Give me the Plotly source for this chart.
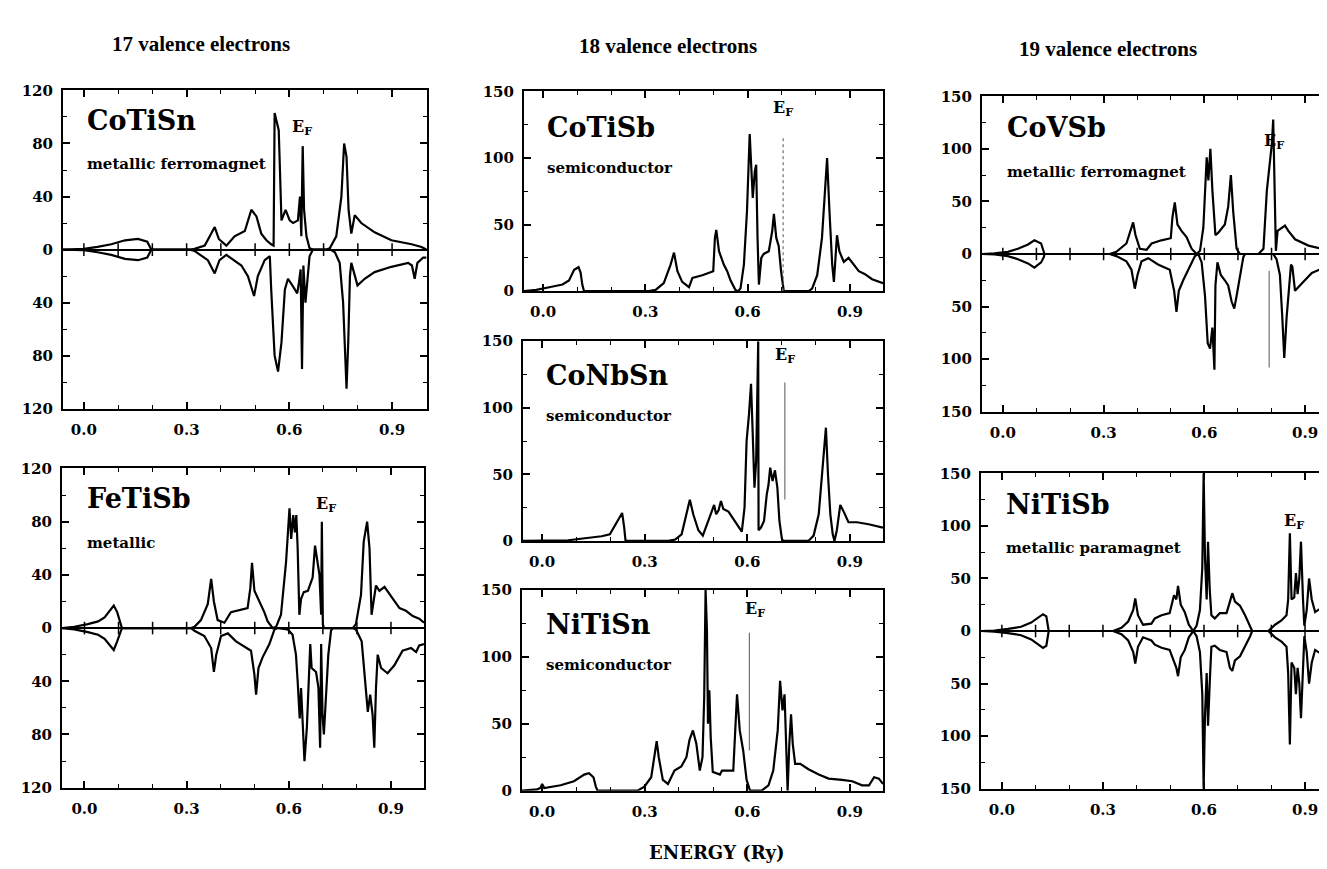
import plotly.graph_objects as go

W, H = 1327, 869
FONT = "DejaVu Serif"
TITLE_FONT = "Liberation Serif"

# ---------------- data (energy in Ry, DOS in states/Ry) ----------------
# spin-polarised panels: *_UP plotted upward, *_DN (magnitudes) plotted downward
COTISN_UP = [(-0.061,0),(0.0,0.5),(0.04,2),(0.08,4),(0.12,7),(0.158,8),(0.185,6),(0.197,0),(0.31,0),(0.323,0.5),(0.353,3),(0.372,12),(0.382,17),(0.394,8),(0.416,3),(0.44,10),(0.47,14),(0.489,30),(0.504,25),(0.518,12),(0.533,7),(0.547,4),(0.554,3),(0.557,103),(0.563,97),(0.569,90),(0.577,22),(0.589,30),(0.601,22),(0.611,20),(0.625,22),(0.631,40),(0.635,10),(0.639,78),(0.643,30),(0.65,10),(0.659,1),(0.669,0),(0.708,0),(0.718,1),(0.737,10),(0.752,40),(0.76,80),(0.767,70),(0.773,30),(0.781,12),(0.791,26),(0.81,20),(0.849,13),(0.898,7),(0.957,4),(0.986,2),(1.0,0)]
COTISN_DN = [(-0.061,0),(0.0,0.5),(0.04,2),(0.08,4),(0.12,7),(0.158,8),(0.185,6),(0.197,0),(0.31,0),(0.323,1),(0.362,8),(0.382,18),(0.396,8),(0.416,4),(0.46,12),(0.479,20),(0.497,35),(0.508,20),(0.528,8),(0.543,5),(0.547,30),(0.557,80),(0.567,92),(0.577,70),(0.587,30),(0.596,22),(0.611,28),(0.623,33),(0.628,25),(0.633,15),(0.637,90),(0.641,12),(0.647,40),(0.653,20),(0.659,5),(0.669,0),(0.72,0),(0.733,2),(0.747,10),(0.757,40),(0.764,80),(0.767,105),(0.772,70),(0.777,20),(0.781,10),(0.791,20),(0.799,27),(0.82,22),(0.849,17),(0.898,13),(0.947,10),(0.958,12),(0.966,22),(0.974,10),(0.991,6),(1.0,6)]

FETISB_UP = [(-0.066,0),(-0.03,1),(0.01,3),(0.04,5),(0.059,8),(0.078,14),(0.086,17),(0.096,12),(0.106,2),(0.11,0),(0.313,0),(0.323,1),(0.342,6),(0.362,18),(0.372,37),(0.38,20),(0.391,6),(0.411,4),(0.43,12),(0.46,14),(0.479,15),(0.487,30),(0.492,49),(0.499,28),(0.514,20),(0.528,12),(0.538,5),(0.553,0),(0.563,1),(0.577,10),(0.592,50),(0.602,90),(0.607,67),(0.613,85),(0.618,72),(0.622,85),(0.626,60),(0.631,10),(0.636,22),(0.644,27),(0.656,28),(0.67,38),(0.677,62),(0.683,50),(0.69,40),(0.695,10),(0.697,80),(0.7,3),(0.703,0),(0.788,0),(0.797,3),(0.812,25),(0.82,65),(0.83,80),(0.837,60),(0.843,10),(0.851,25),(0.856,32),(0.866,28),(0.881,31),(0.9,24),(0.925,15),(0.944,13),(0.964,9),(0.983,7),(0.997,4)]
FETISB_DN = [(-0.066,0),(-0.03,1),(0.01,3),(0.04,5),(0.059,8),(0.078,14),(0.086,16.5),(0.096,10),(0.106,2),(0.11,0),(0.313,0),(0.323,2),(0.352,6),(0.372,15),(0.38,33),(0.387,20),(0.401,6),(0.421,4),(0.445,10),(0.47,14),(0.489,17),(0.499,35),(0.504,50),(0.511,30),(0.523,22),(0.543,12),(0.558,1),(0.568,0),(0.597,1),(0.611,5),(0.621,20),(0.626,40),(0.632,68),(0.636,45),(0.641,70),(0.646,100),(0.653,75),(0.659,40),(0.663,12),(0.667,30),(0.68,33),(0.687,45),(0.692,90),(0.695,12),(0.699,65),(0.703,80),(0.709,50),(0.716,20),(0.724,2),(0.729,0),(0.788,0),(0.797,1),(0.814,10),(0.824,40),(0.832,63),(0.839,50),(0.846,65),(0.851,90),(0.856,45),(0.861,20),(0.871,30),(0.89,34),(0.91,28),(0.934,17),(0.959,15),(0.974,18),(0.983,13),(0.997,12)]

COTISB = [(-0.056,0),(-0.02,1),(0.018,3),(0.057,5),(0.076,8),(0.091,16),(0.104,18),(0.11,14),(0.115,5),(0.12,0),(0.31,0),(0.33,1),(0.354,6),(0.374,20),(0.384,29),(0.394,15),(0.408,7),(0.428,3),(0.438,10),(0.467,12),(0.499,15),(0.504,40),(0.508,46),(0.516,30),(0.53,20),(0.54,15),(0.55,8),(0.564,1),(0.572,0),(0.579,2),(0.589,20),(0.598,60),(0.606,118),(0.61,95),(0.615,70),(0.621,90),(0.625,95),(0.629,40),(0.633,5),(0.64,25),(0.647,28),(0.662,30),(0.672,45),(0.677,58),(0.684,40),(0.691,34),(0.698,15),(0.706,0),(0.779,0),(0.789,2),(0.804,12),(0.818,40),(0.828,80),(0.833,100),(0.84,60),(0.848,20),(0.853,7),(0.857,20),(0.862,42),(0.869,30),(0.882,22),(0.896,25),(0.911,20),(0.926,15),(0.943,13),(0.965,9),(0.997,6)]

CONBSN = [(-0.056,0),(0.076,0.5),(0.125,2),(0.174,3.5),(0.198,5),(0.213,12),(0.228,19),(0.234,21),(0.24,10),(0.244,0),(0.369,0),(0.389,1),(0.408,5),(0.423,20),(0.432,31),(0.442,20),(0.457,8),(0.47,4),(0.481,12),(0.496,22),(0.503,27),(0.509,20),(0.516,23),(0.523,30),(0.53,24),(0.545,22),(0.564,15),(0.576,10),(0.584,7),(0.592,25),(0.598,75),(0.605,95),(0.611,118),(0.616,80),(0.621,40),(0.626,60),(0.63,150),(0.632,150),(0.633,8),(0.64,10),(0.649,15),(0.657,35),(0.662,42),(0.667,55),(0.674,45),(0.681,53),(0.688,40),(0.694,15),(0.701,2),(0.704,0),(0.779,0),(0.794,4),(0.809,20),(0.82,55),(0.826,72),(0.83,85),(0.836,50),(0.843,20),(0.85,5),(0.855,0),(0.862,8),(0.872,27),(0.882,22),(0.896,14),(0.921,14),(0.955,12.5),(0.997,10)]

NITISN = [(-0.059,0),(-0.015,1),(-0.005,2),(0.0,5),(0.006,2),(0.054,4),(0.093,7),(0.123,12),(0.137,13),(0.15,10),(0.157,3),(0.162,0),(0.279,0),(0.299,3),(0.319,10),(0.328,25),(0.335,37),(0.341,25),(0.353,8),(0.368,5),(0.387,15),(0.407,18),(0.422,25),(0.431,38),(0.441,45),(0.451,35),(0.461,15),(0.469,25),(0.474,70),(0.478,150),(0.482,120),(0.485,50),(0.489,75),(0.493,40),(0.499,14),(0.52,12),(0.526,15),(0.559,15),(0.564,40),(0.57,72),(0.578,45),(0.588,30),(0.598,8),(0.608,0),(0.642,0),(0.662,4),(0.676,15),(0.689,45),(0.696,82),(0.703,60),(0.709,72),(0.714,30),(0.718,0),(0.723,35),(0.728,57),(0.733,35),(0.74,20),(0.755,20),(0.779,16),(0.809,12),(0.838,9),(0.877,8),(0.907,7),(0.936,4),(0.956,4),(0.971,10),(0.985,9),(0.997,5)]

COVSB_UP = [(-0.062,0),(-0.025,0.5),(0.015,2),(0.045,5),(0.075,9),(0.094,13),(0.114,10),(0.122,3),(0.124,0),(0.318,0),(0.338,2),(0.368,10),(0.383,25),(0.388,30),(0.395,18),(0.408,5),(0.428,4),(0.443,10),(0.472,13),(0.5,15),(0.505,35),(0.512,49),(0.52,28),(0.532,22),(0.547,16),(0.562,5),(0.577,0),(0.587,3),(0.597,25),(0.607,92),(0.612,70),(0.618,100),(0.624,60),(0.63,25),(0.633,18),(0.641,20),(0.661,28),(0.671,45),(0.679,75),(0.686,40),(0.696,5),(0.706,0),(0.761,0),(0.776,5),(0.786,60),(0.791,75),(0.796,90),(0.801,105),(0.805,128),(0.81,40),(0.813,3),(0.818,22),(0.83,25),(0.84,27),(0.85,22),(0.87,14),(0.91,8),(0.95,5),(0.989,7)]
COVSB_DN = [(-0.062,0),(-0.025,0.5),(0.015,2),(0.045,5),(0.075,9),(0.094,13),(0.114,8),(0.122,3),(0.124,0),(0.318,0),(0.338,2),(0.368,7),(0.383,15),(0.393,33),(0.401,20),(0.413,7),(0.433,4),(0.462,10),(0.497,15),(0.51,35),(0.517,55),(0.524,35),(0.537,25),(0.557,12),(0.572,2),(0.582,0),(0.592,8),(0.602,40),(0.61,85),(0.617,90),(0.624,70),(0.63,110),(0.633,30),(0.639,8),(0.649,20),(0.661,25),(0.671,30),(0.681,45),(0.689,52),(0.696,40),(0.706,20),(0.716,3),(0.721,0),(0.805,0),(0.815,5),(0.825,20),(0.832,60),(0.838,99),(0.845,60),(0.852,30),(0.858,10),(0.862,12),(0.87,35),(0.89,28),(0.92,18),(0.95,14),(0.989,13)]

NITISB_UP = [(-0.062,0),(-0.022,0.5),(0.018,2),(0.057,4),(0.087,8),(0.107,13),(0.122,16),(0.132,14),(0.137,5),(0.139,0),(0.33,0),(0.355,3),(0.375,9),(0.39,20),(0.396,31),(0.404,15),(0.419,6),(0.444,7),(0.454,12),(0.474,15),(0.498,17),(0.511,34),(0.518,30),(0.523,43),(0.531,25),(0.543,18),(0.555,6),(0.568,0),(0.578,5),(0.588,20),(0.595,60),(0.599,150),(0.603,70),(0.608,30),(0.612,85),(0.617,40),(0.622,15),(0.632,12),(0.647,17),(0.667,17),(0.677,28),(0.684,36),(0.692,28),(0.707,24),(0.722,15),(0.737,5),(0.743,0),(0.791,0),(0.811,6),(0.83,10),(0.845,15),(0.85,30),(0.855,93),(0.86,30),(0.868,32),(0.873,55),(0.878,35),(0.883,50),(0.888,85),(0.894,30),(0.898,5),(0.905,20),(0.912,50),(0.92,30),(0.93,18),(0.949,22),(0.969,17),(0.989,15)]
NITISB_DN = [(-0.062,0),(-0.022,0.5),(0.018,2),(0.057,4),(0.087,8),(0.107,13),(0.122,16),(0.132,14),(0.137,5),(0.139,0),(0.33,0),(0.355,3),(0.375,9),(0.39,20),(0.396,31),(0.404,15),(0.419,6),(0.444,9),(0.454,13),(0.474,16),(0.498,18),(0.511,30),(0.518,35),(0.523,43),(0.531,25),(0.543,18),(0.555,6),(0.568,0),(0.578,5),(0.588,20),(0.595,60),(0.599,150),(0.603,80),(0.608,40),(0.612,90),(0.617,50),(0.622,15),(0.632,14),(0.647,18),(0.667,20),(0.677,35),(0.684,38),(0.692,28),(0.707,24),(0.722,15),(0.737,5),(0.743,0),(0.791,0),(0.811,6),(0.83,10),(0.845,15),(0.85,40),(0.855,108),(0.86,30),(0.868,35),(0.873,60),(0.878,35),(0.883,50),(0.888,83),(0.894,30),(0.898,5),(0.905,20),(0.912,50),(0.92,30),(0.93,18),(0.949,22),(0.969,17),(0.989,15)]

# Fermi-level marker lines: (energy, low DOS, high DOS)
EF_COTISB = (0.704, 0, 117)
EF_CONBSN = (0.71, 31, 119)
EF_NITISN = (0.606, 30, 118)
EF_COVSB = (0.793, -108, -16)

# ticks
X_MAJOR = [0.0, 0.3, 0.6, 0.9]
X_MAJOR_TEXT = ["0.0", "0.3", "0.6", "0.9"]
X_MINOR = [0.0, 0.1, 0.2, 0.3, 0.4, 0.5, 0.6, 0.7, 0.8, 0.9, 1.0]
Y120_VALS = [-120, -80, -40, 0, 40, 80, 120]
Y120_TEXT = ["120", "80", "40", "0", "40", "80", "120"]
Y120_MINOR = [-100, -60, -20, 20, 60, 100]
Y150S_VALS = [-150, -100, -50, 0, 50, 100, 150]
Y150S_TEXT = ["150", "100", "50", "0", "50", "100", "150"]
Y150S_MINOR = [-125, -75, -25, 25, 75, 125]
Y150_VALS = [0, 50, 100, 150]
Y150_TEXT = ["0", "50", "100", "150"]
Y150_MINOR = [25, 75, 125]

COL_TITLES = ["17 valence electrons", "18 valence electrons", "19 valence electrons"]
X_TITLE = "ENERGY (Ry)"

# ---------------- layout (pixel boxes) ----------------
def px(x):
    return x / W

def py(y):
    return 1 - y / H

panels = [
    dict(name="CoTiSn", sub="metallic ferromagnet", up=COTISN_UP, dn=COTISN_DN, ef=None,
         box=(55, 75, 419, 400), xr=(-0.061, 1.002), yr=(-120, 120), yt=(Y120_VALS, Y120_TEXT, Y120_MINOR),
         name_pos=(0.060, 0.905), sub_pos=(0.060, 0.769), ef_pos=(0.656, 0.885), mirror_y=True),
    dict(name="FeTiSb", sub="metallic", up=FETISB_UP, dn=FETISB_DN, ef=None,
         box=(54, 461, 416, 787), xr=(-0.066, 0.997), yr=(-120, 120), yt=(Y120_VALS, Y120_TEXT, Y120_MINOR),
         name_pos=(0.064, 0.905), sub_pos=(0.064, 0.767), ef_pos=(0.729, 0.886), mirror_y=True),
    dict(name="CoTiSb", sub="semiconductor", up=COTISB, dn=None, ef=EF_COTISB,
         box=(516, 76, 875, 280), xr=(-0.056, 0.997), yr=(0, 150), yt=(Y150_VALS, Y150_TEXT, Y150_MINOR),
         name_pos=(0.058, 0.82), sub_pos=(0.058, 0.618), ef_pos=(0.721, 0.917), mirror_y=True),
    dict(name="CoNbSn", sub="semiconductor", up=CONBSN, dn=None, ef=EF_CONBSN,
         box=(515, 331, 875, 535), xr=(-0.056, 0.997), yr=(0, 150), yt=(Y150_VALS, Y150_TEXT, Y150_MINOR),
         name_pos=(0.058, 0.83), sub_pos=(0.058, 0.623), ef_pos=(0.727, 0.93), mirror_y=True),
    dict(name="NiTiSn", sub="semiconductor", up=NITISN, dn=None, ef=EF_NITISN,
         box=(514, 585, 875, 790), xr=(-0.059, 0.997), yr=(0, 150), yt=(Y150_VALS, Y150_TEXT, Y150_MINOR),
         name_pos=(0.061, 0.826), sub_pos=(0.061, 0.624), ef_pos=(0.645, 0.902), mirror_y=True),
    dict(name="CoVSb", sub="metallic ferromagnet", up=COVSB_UP, dn=COVSB_DN, ef=EF_COVSB,
         box=(974, 81, 1327, 403), xr=(-0.062, 0.989), yr=(-150, 150), yt=(Y150S_VALS, Y150S_TEXT, Y150S_MINOR),
         name_pos=(0.065, 0.90), sub_pos=(0.065, 0.761), ef_pos=(0.826, 0.857), mirror_y=False),
    dict(name="NiTiSb", sub="metallic paramagnet", up=NITISB_UP, dn=NITISB_DN, ef=None,
         box=(973, 466, 1327, 788), xr=(-0.062, 0.989), yr=(-150, 150), yt=(Y150S_VALS, Y150S_TEXT, Y150S_MINOR),
         name_pos=(0.065, 0.90), sub_pos=(0.065, 0.764), ef_pos=(0.883, 0.848), mirror_y=False),
]

fig = go.Figure()
annotations = []
tickfont = dict(family=FONT, size=15, color="black", weight="bold")
LINE = dict(color="black", width=2.2)

for i, p in enumerate(panels, start=1):
    xa = "x" if i == 1 else f"x{i}"
    ya = "y" if i == 1 else f"y{i}"
    x0, y0, x1, y1 = p["box"]

    ux = [a for a, b in p["up"]]
    uy = [b for a, b in p["up"]]
    fig.add_trace(go.Scatter(x=ux, y=uy, mode="lines", line=LINE, xaxis=xa, yaxis=ya,
                             showlegend=False, hoverinfo="skip"))
    if p["dn"] is not None:
        dx = [a for a, b in p["dn"]]
        dy = [-b for a, b in p["dn"]]
        fig.add_trace(go.Scatter(x=dx, y=dy, mode="lines", line=LINE, xaxis=xa, yaxis=ya,
                                 showlegend=False, hoverinfo="skip"))
        # small tick crosses on the zero line
        fig.add_trace(go.Scatter(x=X_MINOR[:-1], y=[0] * (len(X_MINOR) - 1), mode="markers",
                                 marker=dict(symbol="line-ns", size=9,
                                             line=dict(color="black", width=1.5)),
                                 xaxis=xa, yaxis=ya, showlegend=False, hoverinfo="skip"))
    if p["ef"] is not None:
        e, lo, hi = p["ef"]
        fig.add_trace(go.Scatter(x=[e, e], y=[lo, hi], mode="lines",
                                 line=dict(color="#555555", width=1, dash="dot" if i == 3 else "solid"),
                                 xaxis=xa, yaxis=ya, showlegend=False, hoverinfo="skip"))

    axis_common = dict(showline=True, linecolor="black", linewidth=2, ticks="inside",
                       tickcolor="black", tickwidth=1.5, showgrid=False, tickfont=tickfont)
    fig.layout[("xaxis" if i == 1 else f"xaxis{i}")] = dict(
        domain=[px(x0), px(x1)], anchor=ya, range=list(p["xr"]),
        tickmode="array", tickvals=X_MAJOR, ticktext=X_MAJOR_TEXT, ticklen=7,
        mirror="allticks", zeroline=False, ticklabelstandoff=6,
        minor=dict(tickmode="array", tickvals=X_MINOR, ticks="inside", ticklen=4,
                   tickcolor="black", tickwidth=1.2),
        **axis_common)
    yv, ytxt, ymin = p["yt"]
    fig.layout[("yaxis" if i == 1 else f"yaxis{i}")] = dict(
        domain=[py(y1), py(y0)], anchor=xa, range=list(p["yr"]),
        tickmode="array", tickvals=yv, ticktext=ytxt, ticklen=7,
        mirror="allticks" if p["mirror_y"] else False,
        zeroline=p["dn"] is not None, zerolinecolor="black", zerolinewidth=1.5,
        ticklabelstandoff=5,
        minor=dict(tickmode="array", tickvals=ymin, ticks="inside", ticklen=4,
                   tickcolor="black", tickwidth=1.2),
        **axis_common)

    dom_x = "x domain" if i == 1 else f"x{i} domain"
    dom_y = "y domain" if i == 1 else f"y{i} domain"
    annotations.append(dict(text=p["name"], xref=dom_x, yref=dom_y, x=p["name_pos"][0], y=p["name_pos"][1],
                            xanchor="left", yanchor="middle", showarrow=False,
                            font=dict(family=FONT, size=27, color="black", weight="bold")))
    annotations.append(dict(text=p["sub"], xref=dom_x, yref=dom_y, x=p["sub_pos"][0], y=p["sub_pos"][1],
                            xanchor="left", yanchor="middle", showarrow=False,
                            font=dict(family=FONT, size=15, color="black", weight="bold")))
    annotations.append(dict(text="E<sub>F</sub>", xref=dom_x, yref=dom_y, x=p["ef_pos"][0], y=p["ef_pos"][1],
                            xanchor="center", yanchor="middle", showarrow=False,
                            font=dict(family=FONT, size=16, color="black", weight="bold")))

title_pos = [(193, 28), (660, 30), (1100, 33)]
for t, (cx, cy) in zip(COL_TITLES, title_pos):
    annotations.append(dict(text=t, xref="paper", yref="paper", x=px(cx), y=py(cy),
                            xanchor="center", yanchor="middle", showarrow=False,
                            font=dict(family=TITLE_FONT, size=21, color="black", weight="bold")))
annotations.append(dict(text=X_TITLE, xref="paper", yref="paper", x=px(708), y=py(853),
                        xanchor="center", yanchor="middle", showarrow=False,
                        font=dict(family=FONT, size=18, color="black", weight="bold")))

fig.update_layout(width=W, height=H, margin=dict(l=0, r=0, t=0, b=0),
                  paper_bgcolor="white", plot_bgcolor="white", annotations=annotations)

fig.write_html("out.html")
